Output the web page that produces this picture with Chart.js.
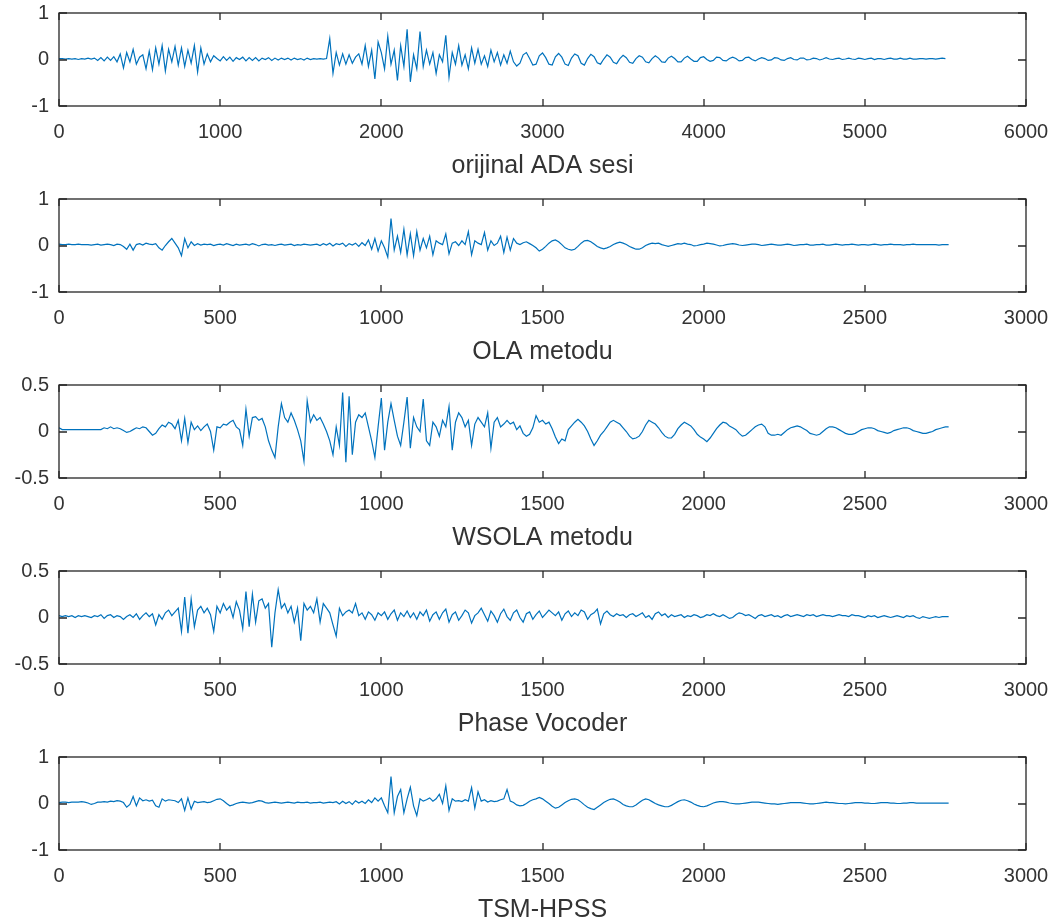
<!DOCTYPE html>
<html>
<head>
<meta charset="utf-8">
<title>TSM karsilastirma</title>
<script src="https://cdn.jsdelivr.net/npm/chart.js@4"></script>
<style>
  body { margin: 0; background: #fff; }
  #wrap { position: relative; width: 1060px; height: 924px; overflow: hidden; }
  #wrap canvas { position: absolute; left: 0; }
</style>
</head>
<body>
<div id="wrap"></div>
<script>
'use strict';

//***********Data***********
let panelTitles = ['orijinal ADA sesi', 'OLA metodu', 'WSOLA metodu', 'Phase Vocoder', 'TSM-HPSS'];

let xTicksLong = [0, 1000, 2000, 3000, 4000, 5000, 6000];
let xTicksShort = [0, 500, 1000, 1500, 2000, 2500, 3000];
let yTicksOne = [-1, 0, 1];
let yTicksHalf = [-0.5, 0, 0.5];

// sample spacing of the values below
let adaStep = 20;
let tsmStep = 10;

// orijinal ADA sesi, x = 0..5500
let adaValues = [
  0.02, 0.02, 0.01, 0.02, 0.01, 0.02, 0.00, 0.02, 0.01, 0.03,
  0.01, 0.03, -0.02, 0.04, -0.03, 0.05, -0.02, 0.06, -0.05, 0.12,
  -0.18, 0.15, -0.05, 0.22, -0.1, 0.05, 0.1, -0.2, 0.18, -0.22,
  0.25, -0.1, 0.3, -0.25, 0.22, -0.05, 0.28, -0.12, 0.25, -0.15,
  0.2, -0.08, 0.3, -0.27, 0.25, -0.1, 0.12, -0.05, 0.08, 0.02,
  -0.03, 0.06, -0.02, 0.05, -0.04, 0.04, 0.0, 0.05, -0.03, 0.04,
  -0.02, 0.04, -0.03, 0.03, 0.0, 0.04, -0.02, 0.03, -0.01, 0.03,
  0.0, 0.03, -0.01, 0.03, 0.0, 0.02, -0.01, 0.03, 0.0, 0.02,
  0.01, 0.02, 0.01, 0.02, 0.45, -0.3, 0.15, -0.12, 0.12, -0.1,
  0.1, -0.08, 0.05, 0.12, -0.1, 0.3, -0.15, 0.2, -0.42, 0.38,
  0.15, -0.2, 0.5, -0.1, 0.2, -0.45, 0.3, -0.15, 0.65, -0.48,
  0.1, -0.2, 0.6, -0.15, 0.2, -0.1, 0.15, -0.3, 0.1, -0.05,
  0.52, -0.38, 0.15, -0.1, 0.3, -0.12, 0.1, -0.2, 0.25, -0.08,
  0.22, -0.1, 0.08, -0.15, 0.2, -0.05, 0.15, -0.12, 0.1, -0.08,
  0.18, -0.05, -0.14, -0.08, 0.1, 0.15, 0.02, -0.12, -0.1, 0.08,
  0.14, 0.04, -0.1, -0.12, 0.06, 0.13, 0.05, -0.1, -0.13, 0.03,
  0.12, 0.08, -0.08, -0.12, 0.02, 0.11, 0.06, -0.07, -0.1, 0.01,
  0.1, 0.05, -0.06, -0.09, 0.02, 0.09, 0.04, -0.06, -0.08, 0.02,
  0.08, 0.05, -0.05, -0.07, 0.02, 0.08, 0.03, -0.05, -0.06, 0.03,
  0.07, 0.02, -0.05, -0.05, 0.03, 0.07, 0.01, -0.04, -0.04, 0.04,
  0.06, 0.0, -0.04, -0.02, 0.05, 0.04, -0.02, -0.03, 0.02, 0.05,
  0.02, -0.03, -0.02, 0.04, 0.05, 0.0, -0.03, 0.01, 0.04, 0.02,
  -0.02, -0.01, 0.04, 0.03, -0.01, -0.02, 0.02, 0.04, 0.0, -0.01,
  0.03, 0.03, -0.01, 0.0, 0.03, 0.02, -0.01, 0.01, 0.04, 0.01,
  0.0, 0.02, 0.03, 0.0, 0.01, 0.03, 0.01, 0.0, 0.03, 0.02,
  0.0, 0.02, 0.03, 0.0, 0.02, 0.02, 0.0, 0.02, 0.03, 0.01,
  0.01, 0.03, 0.01, 0.01, 0.03, 0.01, 0.01, 0.02, 0.02, 0.01,
  0.02, 0.02, 0.01, 0.02, 0.03, 0.02
];

// OLA metodu, x = 0..2760
let olaValues = [
  0.03, 0.02, 0.02, 0.03, 0.02, 0.02, 0.03, 0.02, 0.02, 0.02,
  0.01, 0.02, 0.03, 0.01, 0.02, 0.03, 0.02, 0.00, 0.03, 0.02,
  -0.02, -0.08, 0.03, -0.1, 0.02, 0.04, 0.01, 0.05, 0.03, 0.02,
  0.04, -0.05, -0.1, 0.0, 0.08, 0.15, 0.05, -0.05, -0.22, 0.15,
  -0.05, 0.08, 0.0, 0.04, 0.01, 0.03, 0.02, 0.03, 0.0, 0.02,
  0.03, 0.01, 0.04, 0.02, 0.0, 0.03, 0.01, 0.02, 0.03, 0.01,
  0.04, 0.02, -0.01, 0.02, 0.03, 0.01, 0.02, 0.0, 0.02, 0.03,
  0.01, 0.02, 0.03, 0.0, 0.02, 0.01, 0.03, 0.02, 0.01, 0.02,
  0.03, 0.0, 0.04, 0.01, 0.05, -0.01, 0.04, 0.02, 0.05, -0.02,
  0.04, 0.01, 0.05, -0.02, 0.06, 0.0, 0.12, -0.08, 0.15, -0.12,
  0.1, -0.05, -0.25, 0.58, -0.1, 0.2, -0.15, 0.35, -0.2, 0.25,
  -0.22, 0.3, -0.1, 0.15, -0.05, 0.2, -0.2, 0.1, 0.05, 0.02,
  0.25, -0.18, 0.05, 0.08, 0.0, 0.1, 0.02, 0.3, -0.2, 0.1,
  0.05, 0.02, 0.28, -0.1, 0.1, 0.0, 0.05, 0.2, -0.15, 0.18,
  -0.1, 0.15, 0.05, 0.02, 0.06, 0.08, 0.04, 0.0, -0.05, -0.12,
  -0.08, -0.02, 0.05, 0.1, 0.12, 0.08, 0.02, -0.05, -0.08, -0.1,
  -0.08, -0.02, 0.05, 0.1, 0.11, 0.08, 0.03, -0.02, -0.05, -0.07,
  -0.05, -0.02, 0.02, 0.05, 0.07, 0.05, 0.02, -0.02, -0.05, -0.08,
  -0.08, -0.05, 0.0, 0.03, 0.05, 0.04, 0.05, 0.02, 0.0, -0.02,
  0.0, 0.02, 0.04, 0.03, 0.05, 0.03, 0.02, -0.01, 0.0, 0.02,
  0.03, 0.05, 0.04, 0.03, 0.01, -0.01, 0.0, 0.02, 0.03, 0.04,
  0.03, 0.01, 0.0, 0.01, 0.02, 0.03, 0.03, 0.02, 0.0, 0.01,
  0.02, 0.03, 0.02, 0.01, 0.01, 0.02, 0.03, 0.02, 0.0, 0.01,
  0.02, 0.02, 0.03, 0.01, 0.01, 0.02, 0.02, 0.03, 0.01, 0.01,
  0.02, 0.03, 0.02, 0.01, 0.02, 0.02, 0.03, 0.02, 0.01, 0.02,
  0.02, 0.01, 0.02, 0.03, 0.02, 0.01, 0.02, 0.02, 0.03, 0.02,
  0.02, 0.02, 0.01, 0.02, 0.02, 0.03, 0.02, 0.02, 0.02, 0.02,
  0.02, 0.02, 0.02, 0.01, 0.02, 0.02, 0.02
];

// WSOLA metodu, x = 0..2760
let wsolaValues = [
  0.04, 0.02, 0.02, 0.02, 0.02, 0.02, 0.02, 0.02, 0.02, 0.02,
  0.02, 0.02, 0.02, 0.02, 0.04, 0.03, 0.05, 0.03, 0.04, 0.03,
  0.01, -0.01, 0.0, 0.02, 0.04, 0.03, 0.05, 0.04, 0.0, -0.04,
  -0.02, 0.03, 0.07, 0.05, 0.1, 0.08, 0.03, 0.12, -0.1, 0.14,
  -0.12, 0.1, 0.02, 0.06, 0.01, 0.05, 0.08, 0.0, -0.2, 0.05,
  0.04, 0.08, 0.07, 0.1, 0.12, 0.05, 0.02, -0.15, 0.24, -0.05,
  0.15, 0.16, 0.12, 0.14, 0.05, -0.1, -0.2, -0.28, 0.05, 0.3,
  0.15, 0.1, 0.2, 0.12, 0.02, -0.1, -0.32, 0.33, 0.1, 0.18,
  0.12, 0.15, 0.08, 0.0, -0.1, -0.25, 0.05, -0.15, 0.42, -0.33,
  0.38, -0.25, 0.1, 0.18, 0.15, 0.2, 0.05, -0.1, -0.28, 0.05,
  0.36, -0.2, 0.1, 0.3, 0.12, -0.05, -0.15, 0.1, 0.37, -0.18,
  0.15, 0.05, 0.0, 0.35, -0.1, -0.15, 0.1, 0.05, -0.05, 0.12,
  0.05, 0.27, -0.2, 0.1, 0.2, 0.15, 0.05, 0.12, -0.15, 0.08,
  0.15, 0.1, 0.05, 0.2, -0.18, 0.1, 0.15, 0.05, 0.08, 0.12,
  0.08, 0.1, 0.02, 0.06, -0.02, -0.05, -0.03, 0.04, 0.17, 0.1,
  0.12, 0.08, 0.1, 0.03, -0.06, -0.13, -0.08, -0.1, 0.02, 0.06,
  0.1, 0.13, 0.1, 0.06, 0.0, -0.08, -0.15, -0.1, -0.04, 0.0,
  0.05, 0.1, 0.12, 0.1, 0.08, 0.04, 0.0, -0.05, -0.08, -0.07,
  -0.05, 0.0, 0.07, 0.12, 0.1, 0.08, 0.04, -0.01, -0.05, -0.07,
  -0.07, -0.03, 0.03, 0.07, 0.1, 0.08, 0.06, 0.02, -0.03, -0.06,
  -0.08, -0.11, -0.07, -0.02, 0.03, 0.07, 0.1, 0.09, 0.06, 0.04,
  0.02, -0.02, -0.05, -0.04, -0.01, 0.02, 0.05, 0.07, 0.08, 0.05,
  -0.02, -0.04, -0.04, -0.03, -0.04, -0.01, 0.02, 0.04, 0.05, 0.06,
  0.05, 0.03, 0.01, -0.02, -0.03, -0.04, -0.03, 0.0, 0.03, 0.05,
  0.05, 0.04, 0.02, 0.0, -0.02, -0.03, -0.03, -0.02, 0.0, 0.02,
  0.03, 0.04, 0.04, 0.03, 0.01, 0.0, -0.01, -0.02, -0.01, 0.01,
  0.02, 0.03, 0.04, 0.04, 0.03, 0.01, 0.0, -0.01, -0.02, -0.02,
  -0.01, 0.0, 0.02, 0.03, 0.04, 0.05, 0.05
];

// Phase Vocoder, x = 0..2760
let vocoderValues = [
  0.02, 0.01, 0.02, 0.01, 0.02, 0.0, 0.02, 0.01, 0.02, 0.01,
  0.0, 0.02, 0.01, 0.03, -0.01, 0.02, 0.03, 0.0, 0.02, 0.01,
  -0.02, 0.01, 0.03, 0.0, 0.04, -0.02, 0.02, 0.05, 0.01, 0.04,
  -0.08, 0.03, -0.02, 0.05, 0.08, 0.02, 0.06, 0.1, -0.15, 0.22,
  -0.17, 0.2, -0.1, 0.08, 0.12, 0.05, 0.1, 0.03, -0.15, 0.12,
  0.05, 0.15, 0.08, 0.12, 0.0, 0.17, 0.08, -0.12, 0.28, -0.1,
  0.25, -0.05, 0.18, 0.2, 0.1, 0.15, -0.32, 0.05, 0.3, 0.1,
  0.15, 0.05, 0.12, -0.05, 0.1, -0.25, 0.15, 0.08, 0.12, 0.05,
  0.2, -0.05, 0.15, 0.1, 0.05, -0.08, -0.2, 0.1, 0.02, 0.06,
  0.08, 0.05, 0.15, 0.02, 0.05, -0.02, 0.06, 0.03, -0.03, 0.05,
  0.02, 0.06, -0.02, 0.04, 0.08, -0.03, 0.05, 0.01, 0.07, 0.0,
  0.05, -0.02, 0.06, 0.02, 0.08, -0.04, 0.03, 0.06, -0.02, 0.05,
  0.09, -0.05, 0.03, 0.06, -0.03, 0.02, 0.08, 0.05, -0.06, 0.02,
  0.05, 0.1, 0.03, -0.04, 0.07, 0.02, -0.05, 0.04, 0.09, 0.01,
  -0.03, 0.05, 0.08, 0.0, -0.05, 0.04, 0.06, -0.02, 0.03, 0.07,
  0.0, 0.04, 0.08, 0.05, 0.02, 0.06, -0.03, 0.04, 0.07, 0.01,
  0.05, 0.02, 0.08, 0.06, -0.02, 0.03, 0.05, 0.09, -0.07, 0.04,
  0.07, 0.03, 0.01, 0.04, 0.02, 0.03, 0.0, 0.03, 0.04, 0.01,
  0.03, 0.05, 0.0, 0.02, -0.02, 0.04, 0.06, 0.02, 0.04, 0.0,
  0.03, 0.01, 0.02, 0.03, 0.0, 0.02, 0.01, 0.03, 0.02, 0.0,
  0.01, 0.03, 0.02, 0.04, 0.02, 0.01, 0.03, 0.01, -0.01, 0.0,
  0.03, 0.05, 0.04, 0.02, 0.03, 0.01, -0.01, 0.02, 0.03, 0.01,
  0.02, 0.03, 0.01, 0.02, 0.0, 0.02, 0.03, 0.01, 0.02, 0.03,
  0.02, 0.01, 0.03, 0.02, 0.03, 0.01, 0.02, 0.03, 0.02, 0.02,
  0.01, 0.02, 0.03, 0.02, 0.02, 0.01, 0.03, 0.02, 0.02, 0.01,
  0.0, 0.02, 0.01, 0.02, 0.0, 0.01, 0.02, 0.01, 0.0, 0.01,
  0.02, 0.01, 0.0, 0.02, 0.01, 0.02, 0.0, -0.01, 0.01, 0.0,
  -0.01, 0.0, 0.01, 0.0, 0.01, 0.01, 0.01
];

// TSM-HPSS, x = 0..2760
let hpssValues = [
  0.02, 0.03, 0.03, 0.02, 0.03, 0.03, 0.03, 0.04, 0.03, 0.01,
  -0.02, 0.0, 0.03, 0.03, 0.04, 0.03, 0.05, 0.04, 0.06, 0.05,
  0.02, -0.08, -0.02, 0.15, -0.05, 0.12, 0.06, 0.08, 0.05, 0.07,
  -0.05, -0.08, 0.1, 0.05, 0.08, 0.07, 0.06, 0.02, 0.1, -0.15,
  0.12, -0.12, 0.05, 0.02, 0.03, 0.04, 0.02, 0.03, 0.06, 0.09,
  0.1, 0.06, 0.0, -0.05, -0.03, 0.0, 0.02, 0.03, 0.02, 0.01,
  0.02, 0.04, 0.06, 0.05, 0.02, 0.01, 0.02, 0.03, 0.02, 0.01,
  0.02, 0.03, 0.02, 0.01, 0.03, 0.02, 0.02, 0.03, 0.01, 0.02,
  0.02, 0.03, 0.01, 0.02, 0.03, 0.02, 0.04, -0.01, 0.05, 0.0,
  0.04, -0.02, 0.06, 0.01, 0.05, 0.0, 0.08, 0.02, 0.12, 0.05,
  0.12, -0.05, -0.2, 0.58, -0.2, 0.15, 0.3, -0.2, 0.1, 0.35,
  -0.05, -0.26, 0.1, 0.05, 0.08, 0.12, 0.05, 0.1, 0.2, 0.0,
  0.38, -0.15, 0.1, 0.05, 0.06, 0.04, 0.08, 0.05, 0.34, -0.1,
  0.25, 0.05, 0.08, 0.03, 0.06, 0.04, 0.05, 0.08, 0.1, 0.3,
  0.05, 0.02, -0.03, -0.05, -0.04, 0.0, 0.05, 0.08, 0.1, 0.13,
  0.1, 0.05, 0.0, -0.06, -0.1, -0.08, -0.03, 0.02, 0.06, 0.09,
  0.1, 0.08, 0.03, -0.03, -0.08, -0.11, -0.13, -0.08, -0.03, 0.02,
  0.06, 0.09, 0.1, 0.07, 0.03, -0.02, -0.05, -0.07, -0.07, -0.03,
  0.02, 0.07, 0.1, 0.08, 0.04, 0.0, -0.03, -0.05, -0.07, -0.07,
  -0.04, 0.0, 0.04, 0.07, 0.08, 0.06, 0.03, -0.01, -0.04, -0.06,
  -0.07, -0.05, -0.02, 0.01, 0.03, 0.04, 0.04, 0.03, 0.01, 0.0,
  -0.01, -0.01, 0.0, 0.01, 0.02, 0.03, 0.03, 0.03, 0.02, 0.01,
  0.0, -0.01, -0.01, -0.02, -0.01, 0.0, 0.01, 0.02, 0.02, 0.02,
  0.02, 0.01, 0.0, -0.01, -0.01, 0.0, 0.01, 0.02, 0.03, 0.02,
  0.02, 0.01, 0.0, 0.0, -0.01, 0.0, 0.01, 0.02, 0.02, 0.02,
  0.01, 0.01, 0.0, 0.0, 0.01, 0.02, 0.02, 0.02, 0.01, 0.01,
  0.0, 0.0, 0.01, 0.01, 0.02, 0.02, 0.01, 0.01, 0.01, 0.01,
  0.01, 0.01, 0.01, 0.01, 0.01, 0.01, 0.01
];

//***********Layout***********
let pageWidth = 1060;
let boxTops = [13, 199, 385, 571, 757];
let boxHeight = 93;
let padTop = 12;
let yAxisWidth = 59;
let xAxisHeight = 75;
let rightPad = 34;
let textColor = '#333333';
let lineColor = '#0072BD';
let fontFamily = '"Liberation Sans", Arial, Helvetica, sans-serif';

// MATLAB style box with ticks pointing inwards
let matlabBox = {
  id: 'matlabBox',
  afterDraw(chart) {
    let ctx = chart.ctx;
    let a = chart.chartArea;
    let x = chart.scales.x;
    let y = chart.scales.y;
    ctx.save();
    ctx.strokeStyle = '#262626';
    ctx.lineWidth = 1.3;
    ctx.strokeRect(a.left, a.top, a.right - a.left, a.bottom - a.top);
    ctx.beginPath();
    x.ticks.forEach(function (t) {
      let px = Math.round(x.getPixelForValue(t.value));
      ctx.moveTo(px, a.top);
      ctx.lineTo(px, a.top + 7);
      ctx.moveTo(px, a.bottom);
      ctx.lineTo(px, a.bottom - 7);
    });
    y.ticks.forEach(function (t) {
      let py = Math.round(y.getPixelForValue(t.value));
      ctx.moveTo(a.left, py);
      ctx.lineTo(a.left + 8, py);
      ctx.moveTo(a.right, py);
      ctx.lineTo(a.right - 8, py);
    });
    ctx.stroke();
    ctx.restore();
  }
};

function toPoints(values, step) {
  return values.map(function (v, i) {
    return { x: i * step, y: v };
  });
}

function makePanel(index, values, step, xTicks, yTicks) {
  let canvas = document.createElement('canvas');
  let h = padTop + boxHeight + xAxisHeight;
  canvas.width = pageWidth;
  canvas.height = h;
  canvas.style.top = (boxTops[index] - padTop) + 'px';
  canvas.style.width = pageWidth + 'px';
  canvas.style.height = h + 'px';
  document.getElementById('wrap').appendChild(canvas);

  new Chart(canvas.getContext('2d'), {
    type: 'line',
    data: {
      datasets: [{
        data: toPoints(values, step),
        borderColor: lineColor,
        borderWidth: 1.2,
        pointRadius: 0,
        tension: 0,
        fill: false
      }]
    },
    options: {
      responsive: false,
      animation: false,
      devicePixelRatio: 1,
      layout: { padding: { top: padTop, right: rightPad, left: 0, bottom: 0 } },
      plugins: { legend: { display: false }, tooltip: { enabled: false } },
      scales: {
        x: {
          type: 'linear',
          min: xTicks[0],
          max: xTicks[xTicks.length - 1],
          grid: { display: false, drawTicks: false },
          border: { display: false },
          afterBuildTicks: function (scale) {
            scale.ticks = xTicks.map(function (v) { return { value: v }; });
          },
          afterFit: function (scale) {
            scale.height = xAxisHeight;
            scale.paddingLeft = 0;
            scale.paddingRight = 0;
          },
          ticks: {
            autoSkip: false,
            maxRotation: 0,
            padding: 14,
            color: textColor,
            font: { family: fontFamily, size: 20 },
            callback: function (v) { return String(v); }
          },
          title: {
            display: true,
            text: panelTitles[index],
            color: textColor,
            font: { family: fontFamily, size: 25 },
            padding: { top: 0, bottom: 0 }
          }
        },
        y: {
          min: yTicks[0],
          max: yTicks[yTicks.length - 1],
          grid: { display: false, drawTicks: false },
          border: { display: false },
          afterBuildTicks: function (scale) {
            scale.ticks = yTicks.map(function (v) { return { value: v }; });
          },
          afterFit: function (scale) {
            scale.width = yAxisWidth;
            scale.paddingTop = 0;
            scale.paddingBottom = 0;
          },
          ticks: {
            padding: 10,
            color: textColor,
            font: { family: fontFamily, size: 20 },
            callback: function (v) { return String(v); }
          }
        }
      }
    },
    plugins: [matlabBox]
  });
}

//***********Executable code***********
makePanel(0, adaValues, adaStep, xTicksLong, yTicksOne);
makePanel(1, olaValues, tsmStep, xTicksShort, yTicksOne);
makePanel(2, wsolaValues, tsmStep, xTicksShort, yTicksHalf);
makePanel(3, vocoderValues, tsmStep, xTicksShort, yTicksHalf);
makePanel(4, hpssValues, tsmStep, xTicksShort, yTicksOne);
</script>
</body>
</html>
